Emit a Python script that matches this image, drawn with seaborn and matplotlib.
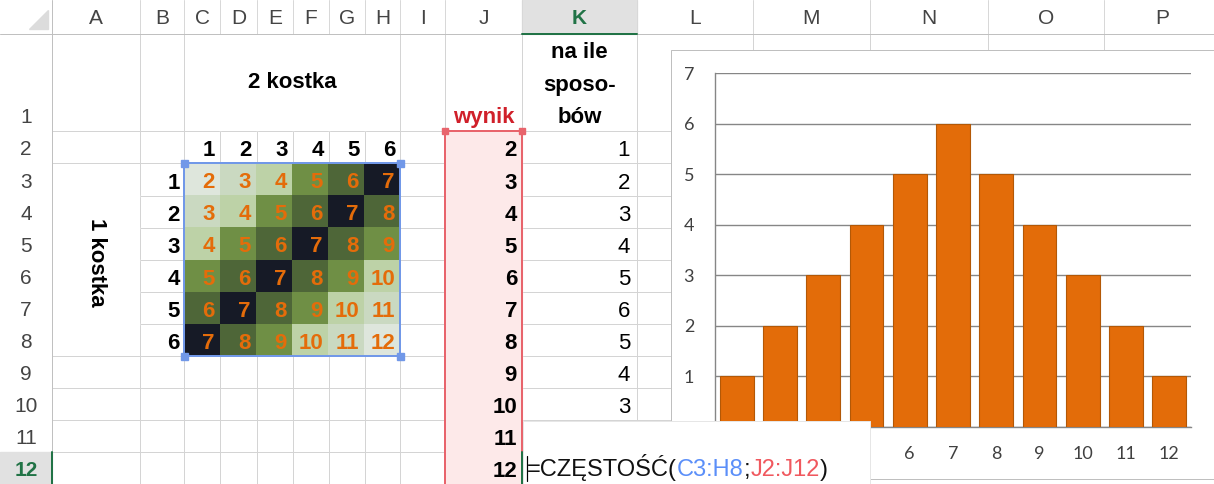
import matplotlib
matplotlib.use("Agg")
import matplotlib.pyplot as plt
from matplotlib.colors import ListedColormap
from matplotlib.patches import Rectangle, Polygon
import numpy as np
import seaborn as sns

# ---- data ----
die_faces = [1, 2, 3, 4, 5, 6]
sum_grid = [
    [2, 3, 4, 5, 6, 7],
    [3, 4, 5, 6, 7, 8],
    [4, 5, 6, 7, 8, 9],
    [5, 6, 7, 8, 9, 10],
    [6, 7, 8, 9, 10, 11],
    [7, 8, 9, 10, 11, 12],
]
results = [2, 3, 4, 5, 6, 7, 8, 9, 10, 11, 12]
ways = [1, 2, 3, 4, 5, 6, 5, 4, 3, 2, 1]
ways_shown = 9  # K11, K12 sit under the formula tip
labels_hidden = 4  # x labels 2..5 sit under the formula tip too
col_letters = list("ABCDEFGHIJKLMNOP")
row_numbers = list(range(1, 13))
formula_parts = [("=CZĘSTOŚĆ(", "#111111"), ("C3:H8", "#5b8ff9"),
                 (";", "#111111"), ("J2:J12", "#f0585e"), (")", "#111111")]

# ---- layout (pixels) ----
W, H = 1214, 484
col_edges = [52, 140, 184, 220, 257, 293, 329, 365, 400, 445, 522, 637,
             753, 870, 988, 1104, 1220]
row_edges = [34, 131, 163, 196, 228, 260, 292, 324, 356, 388, 420, 452, 484]
chart_left, chart_top = 671, 50
grid_c = "#d4d4d4"
hdr_txt = "#444444"
green = "#217346"
orange = "#e46c0a"

sns.set_style("white")
plt.rcParams["font.family"] = ["Liberation Sans", "DejaVu Sans"]

fig = plt.figure(figsize=(W / 100, H / 100), dpi=100)
sheet = fig.add_axes([0, 0, 1, 1])
sheet.set_xlim(0, W)
sheet.set_ylim(H, 0)
sheet.axis("off")
px = 0.72  # one pixel in points

# header row and column
sheet.add_patch(Rectangle((522, 0), 115, 34, color="#e1e1e1", zorder=1))
sheet.add_patch(Rectangle((0, 452), 52, 32, color="#e1e1e1", zorder=1))
sheet.add_patch(Polygon([[29, 29], [48, 29], [48, 10]], color="#dcdcdc", zorder=2))
sheet.plot([0, W], [34, 34], color="#c0c0c0", lw=px, zorder=3)
sheet.plot([52, 52], [0, H], color="#c0c0c0", lw=px, zorder=3)
sheet.plot([522, 637], [34, 34], color=green, lw=2 * px, zorder=4)
sheet.plot([52, 52], [452, H], color=green, lw=2 * px, zorder=4)
for x in col_edges[1:]:
    sheet.plot([x, x], [0, 34], color="#d8d8d8", lw=px, zorder=2)
for i, letter in enumerate(col_letters):
    cx = (col_edges[i] + col_edges[i + 1]) / 2
    active = letter == "K"
    sheet.text(cx, 18, letter, ha="center", va="center", fontsize=15,
               color=green if active else hdr_txt,
               fontweight="bold" if active else "normal", zorder=5)
for i, n in enumerate(row_numbers):
    bot = row_edges[i + 1]
    active = n == 12
    sheet.text(26, bot - 8, str(n), ha="center", va="baseline", fontsize=15,
               color=green if active else hdr_txt,
               fontweight="bold" if active else "normal", zorder=5)

# cell gridlines
for i, y in enumerate(row_edges[1:-1], start=1):
    sheet.plot([52, chart_left], [y, y], color=grid_c, lw=px, zorder=1)
    if 3 <= i <= 7:  # merged A3:A8
        sheet.add_patch(Rectangle((53, y - 1), 86, 2, color="white", zorder=1.5))
for x in col_edges[1:]:
    if x < chart_left:
        sheet.plot([x, x], [34, H], color=grid_c, lw=px, zorder=1)
    else:
        sheet.plot([x, x], [34, chart_top], color=grid_c, lw=px, zorder=1)
    if 220 <= x <= 365:  # merged C1:H1
        sheet.add_patch(Rectangle((x - 1, 35), 2, 95, color="white", zorder=1.5))

# J2:J12 highlighted range
sheet.add_patch(Rectangle((445, 131), 77, H - 131, color="#fde9e9", zorder=2))
sheet.add_patch(Rectangle((445, 131), 77, H - 131 + 10, fill=False,
                          edgecolor="#e8646c", lw=2 * px, zorder=6))
for x in (445, 522):
    sheet.add_patch(Rectangle((x - 3, 128), 6, 6, color="#e8646c", zorder=6))

# cell texts
bold16 = dict(fontsize=16, fontweight="bold", color="black", zorder=5)
sheet.text(292, 83, "2 kostka", ha="center", va="center", **bold16)
sheet.text(96, 262, "1 kostka", ha="center", va="center", rotation=270, **bold16)
sheet.text(484, 123, "wynik", ha="center", va="baseline", fontsize=16,
           fontweight="bold", color="#d0202a", zorder=5)
for txt, y in zip(["na ile", "sposo-", "bów"], [58, 91, 123]):
    sheet.text(579.5, y, txt, ha="center", va="baseline", **bold16)
for k, face in enumerate(die_faces):
    sheet.text(col_edges[k + 3] - 5, row_edges[2] - 7, str(face),
               ha="right", va="baseline", **bold16)
    sheet.text(col_edges[2] - 4, row_edges[k + 3] - 7, str(face),
               ha="right", va="baseline", **bold16)
for k, r in enumerate(results):
    sheet.text(col_edges[10] - 5, row_edges[k + 2] - 7, str(r),
               ha="right", va="baseline", **bold16)
for k, w in enumerate(ways[:ways_shown]):
    sheet.text(col_edges[11] - 7, row_edges[k + 2] - 7, str(w),
               ha="right", va="baseline", fontsize=16, color="black", zorder=5)

# ---- heatmap of the two dice ----
color_idx = [[ways[results.index(v)] for v in row] for row in sum_grid]
hm_colors = ["#dee6dc", "#cad9c1", "#bdd2a7", "#6f8f45", "#4e6638", "#161a26"]
ax_hm = fig.add_axes([184 / W, 1 - 356 / H, 216 / W, 193 / H])
sns.heatmap(color_idx, cmap=ListedColormap(hm_colors), vmin=0.5, vmax=6.5,
            cbar=False, annot=sum_grid, fmt="d",
            annot_kws=dict(fontsize=16, fontweight="bold", color=orange),
            xticklabels=False, yticklabels=False, ax=ax_hm)
for t in ax_hm.texts:
    x, y = t.get_position()
    t.set_position((x + 0.5 - 0.14, y + 0.5 - 0.22))
    t.set_ha("right")
    t.set_va("baseline")
    t.set_color(orange)

# ---- bar chart ----
sheet.add_patch(Rectangle((chart_left, chart_top), W, 429, facecolor="white",
                          edgecolor="#bfbfbf", lw=px, zorder=7))
ax_c = fig.add_axes([715 / W, 1 - 427 / H, 476 / W, 354 / H], zorder=2)
ax_c.patch.set_alpha(0)
sns.barplot(x=results, y=ways, color="#e36c09", saturation=1, width=0.78,
            edgecolor="#b35806", linewidth=0.8, ax=ax_c, zorder=3)
ax_c.set_xlim(-0.5, len(results) - 0.5)
ax_c.set_ylim(0, 7)
ax_c.set_yticks(range(0, 8))
ax_c.yaxis.grid(True, color="#868686", lw=1.0)
ax_c.set_axisbelow(True)
for side in ("top", "right"):
    ax_c.spines[side].set_visible(False)
for side in ("left", "bottom"):
    ax_c.spines[side].set_color("#868686")
    ax_c.spines[side].set_linewidth(1.0)
ax_c.set_xticks(np.arange(-0.5, len(results), 1), minor=True)
ax_c.tick_params(axis="y", length=4, color="#868686", pad=11,
                 labelsize=13, labelcolor="#404040")
ax_c.tick_params(axis="x", which="major", length=0, pad=14,
                 labelsize=13, labelcolor="#404040")
ax_c.tick_params(axis="x", which="minor", length=5, color="#868686")
for lab in ax_c.get_xticklabels() + ax_c.get_yticklabels():
    lab.set_fontfamily(["Lato", "DejaVu Sans"])
for lab in ax_c.get_xticklabels()[:labels_hidden]:
    lab.set_visible(False)
ax_c.set_xlabel("")
ax_c.set_ylabel("")

# ---- overlay: selection frame, formula tip ----
top = fig.add_axes([0, 0, 1, 1], zorder=10)
top.set_xlim(0, W)
top.set_ylim(H, 0)
top.axis("off")
top.add_patch(Rectangle((184, 163), 216, 193, fill=False, edgecolor="#7198e8",
                        lw=2 * px))
for x in (184, 400):
    for y in (163, 356):
        top.add_patch(Rectangle((x - 3.5, y - 3.5), 7, 7, color="#7198e8"))
top.add_patch(Rectangle((523, 421), 347, 70, facecolor="white",
                        edgecolor="#e6e6e6", lw=px))
top.plot([522, 522], [452, H], color=green, lw=2 * px)
top.plot([527, 527], [456, 481], color="black", lw=1.2 * px)

fig.canvas.draw()
renderer = fig.canvas.get_renderer()
x = 527
for s, c in formula_parts:
    t = top.text(x, 476, s, color=c, fontsize=17, ha="left", va="baseline")
    x = t.get_window_extent(renderer=renderer).x1

fig.savefig("out.png", dpi=100)
plt.close(fig)
